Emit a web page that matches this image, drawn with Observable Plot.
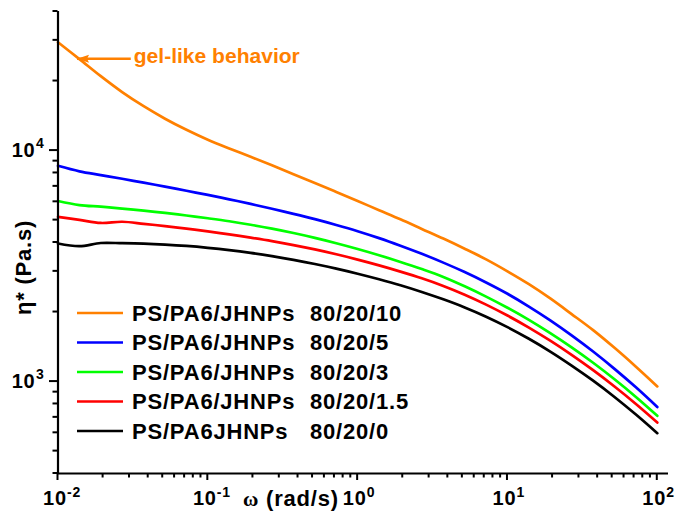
<!DOCTYPE html>
<html>
<head>
<meta charset="utf-8">
<script src="https://cdn.jsdelivr.net/npm/d3@7"></script>
<script src="https://cdn.jsdelivr.net/npm/@observablehq/plot@0.6"></script>
<style>
html,body{margin:0;padding:0;background:#fff;}
#chart{width:689px;height:511px;}
</style>
</head>
<body>
<div id="chart"></div>
<script>
// angular frequency (rad/s)
const omega = [0.01,0.0139,0.0193,0.0268,0.0373,0.0518,0.0720,0.1,0.139,0.193,0.268,0.373,0.518,0.720,1,1.39,1.93,2.68,3.73,5.18,7.20,10,13.9,19.3,26.8,37.3,51.8,72.0,100];
// complex viscosity (Pa.s) for each blend
const eta_80_20_10  = [29440,24890,20990,17910,15560,13740,12300,11140,10210,9400,8630,7890,7230,6620,6050,5520,5040,4580,4160,3760,3380,3000,2640,2290,1960,1670,1400,1160,953];
const eta_80_20_5   = [8590,8130,7834,7551,7261,6982,6699,6427,6152,5875,5598,5321,5047,4764,4477,4178,3873,3573,3273,2979,2685,2399,2113,1841,1585,1349,1135,944,776];
const eta_80_20_3   = [6050,5810,5715,5610,5495,5370,5236,5093,4943,4775,4592,4395,4188,3972,3750,3524,3296,3069,2838,2585,2333,2087,1849,1620,1406,1206,1023,858,711];
const eta_80_20_1_5 = [5160,5010,4860,4920,4820,4710,4592,4467,4335,4198,4055,3899,3733,3556,3373,3184,2992,2799,2594,2377,2154,1931,1713,1503,1305,1120,952,800,665];
const eta_80_20_0   = [3960,3855,3980,3972,3954,3917,3864,3793,3707,3606,3491,3365,3228,3083,2931,2773,2612,2443,2270,2094,1910,1721,1532,1349,1173,1009,858,720,598];

const seriesNames  = ["PS/PA6/JHNPs","PS/PA6/JHNPs","PS/PA6/JHNPs","PS/PA6/JHNPs","PS/PA6JHNPs"];
const seriesRatios = ["80/20/10","80/20/5","80/20/3","80/20/1.5","80/20/0"];
const seriesColors = ["#ff8000","#0000ff","#00ff00","#ff0000","#000000"];

const xMajorTicks = [0.01,0.1,1,10,100];
const xTickExponents = ["-2","-1","0","1","2"];
const yMajorTicks = [1000,10000];
const yTickExponents = ["3","4"];

const xAxisTitle = ["ω", " (rad/s)"];
const yAxisTitle = "η* (Pa.s)";

const gelLabel = "gel-like behavior";
const gelArrowOmega = [0.0306, 0.0134]; // tail, head
const gelArrowEta = 25000;

const seriesValues = [eta_80_20_10, eta_80_20_5, eta_80_20_3, eta_80_20_1_5, eta_80_20_0];
const rows = seriesValues.flatMap((vals, s) => vals.map((v, i) => ({omega: omega[i], eta: v, series: seriesRatios[s]})));

const xMinorTicks = [];
for (const d of [0.01, 0.1, 1, 10]) for (let m = 2; m <= 9; m++) xMinorTicks.push(+(d * m).toPrecision(3));
const yMinorTicks = [];
for (const d of [100, 1000, 10000]) for (let m = 2; m <= 9; m++) { const v = d * m; if (v >= 400 && v <= 40000) yMinorTicks.push(v); }

const W = 689, H = 511, ML = 57.5, MR = 21, MT = 11, MB = 38;
const FONT = "'Liberation Sans', Arial, Helvetica, sans-serif";
const arrowHead = { draw(ctx) { ctx.moveTo(0, 0); ctx.lineTo(12, -4); ctx.lineTo(10, 0); ctx.lineTo(12, 4); ctx.closePath(); } };

const chart = Plot.plot({
  width: W,
  height: H,
  marginLeft: ML,
  marginRight: MR,
  marginTop: MT,
  marginBottom: MB,
  style: {fontFamily: FONT, fontWeight: "bold", letterSpacing: "0.8px", background: "white", color: "black", overflow: "visible"},
  x: {type: "log", domain: [0.01, 118.8], axis: null},
  y: {type: "log", domain: [400, 40000], axis: null},
  color: {domain: seriesRatios, range: seriesColors},
  marks: [
    // tick labels: 10 with superscript exponent
    Plot.text(xMajorTicks, {x: d => d, frameAnchor: "bottom", text: () => "10", textAnchor: "middle", lineAnchor: "bottom", dx: -3, dy: 31, fontSize: 20, fontWeight: "bold", fill: "black"}),
    Plot.text(xMajorTicks, {x: d => d, frameAnchor: "bottom", text: (d, i) => xTickExponents[i], textAnchor: "start", lineAnchor: "bottom", dx: 9, dy: 23.7, fontSize: 14, fontWeight: "bold", fill: "black"}),
    Plot.text(yMajorTicks, {y: d => d, frameAnchor: "left", text: () => "10", textAnchor: "end", lineAnchor: "bottom", dx: -22.5, dy: 6.6, fontSize: 20, fontWeight: "bold", fill: "black"}),
    Plot.text(yMajorTicks, {y: d => d, frameAnchor: "left", text: (d, i) => yTickExponents[i], textAnchor: "start", lineAnchor: "bottom", dx: -22, dy: -2.4, fontSize: 14, fontWeight: "bold", fill: "black"}),
    // data
    Plot.line(rows, {x: "omega", y: "eta", z: "series", stroke: "series", strokeWidth: 2.7, strokeLinejoin: "round", curve: "catmull-rom"}),
    // annotation
    Plot.link([gelLabel], {x1: () => gelArrowOmega[0], x2: () => gelArrowOmega[1], y1: () => gelArrowEta, y2: () => gelArrowEta, stroke: "#ff8000", strokeWidth: 2.5}),
    Plot.dot([gelLabel], {x: () => gelArrowOmega[1], y: () => gelArrowEta, symbol: arrowHead, fill: "#ff8000", stroke: "none"}),
    Plot.text([gelLabel], {x: () => gelArrowOmega[0], y: () => gelArrowEta, text: d => d, textAnchor: "start", lineAnchor: "bottom", dx: 3, dy: 4.5, fontSize: 21, fontWeight: "bold", fill: "#ff8000"}),
    // axis lines
    Plot.ruleY([400], {stroke: "black", strokeWidth: 2.2}),
    Plot.ruleX([0.01], {stroke: "black", strokeWidth: 2.2})
  ]
});

const svg = d3.select(chart);
// narrow the annotation text like the reference
svg.selectAll("text").filter(function () { return this.textContent === gelLabel; })
  .attr("textLength", 166).attr("lengthAdjust", "spacingAndGlyphs").style("letter-spacing", "0px");

// outward ticks, positioned through the plot's own scales
const sx = chart.scale("x"), sy = chart.scale("y");
const bottom = H - MB;
const tg = svg.append("g").attr("stroke", "black").attr("stroke-width", 2).attr("fill", "none");
const addXTicks = (vals, len) => vals.forEach(v => {
  const px = sx.apply(v);
  tg.append("line").attr("x1", px).attr("x2", px).attr("y1", bottom).attr("y2", bottom + len);
});
const addYTicks = (vals, len) => vals.forEach(v => {
  const py = sy.apply(v);
  tg.append("line").attr("x1", ML - len).attr("x2", ML).attr("y1", py).attr("y2", py);
});
addXTicks(xMinorTicks, 4.5);
addXTicks(xMajorTicks, 7);
addYTicks(yMinorTicks, 5);
addYTicks(yMajorTicks, 8.5);

// legend inside the plot
const lg = svg.append("g").attr("font-size", 22).attr("font-weight", "bold").attr("fill", "black").attr("text-anchor", "start");
seriesRatios.forEach((r, i) => {
  const y = 313 + i * 29.5;
  lg.append("line").attr("x1", 77).attr("x2", 123).attr("y1", y).attr("y2", y)
    .attr("stroke", seriesColors[i]).attr("stroke-width", 2.7);
  lg.append("text").attr("x", 132).attr("y", y + 7.8).text(seriesNames[i]);
  lg.append("text").attr("x", 310).attr("y", y + 7.8).text(r);
});
// axis titles
const xt = svg.append("text").attr("x", 243).attr("y", 506).attr("text-anchor", "start").attr("font-size", 22).attr("font-weight", "bold").attr("fill", "black");
xt.append("tspan").attr("font-family", "'Liberation Serif', 'Times New Roman', serif").attr("font-size", 21).text(xAxisTitle[0]);
xt.append("tspan").text(xAxisTitle[1]);
svg.append("text").attr("transform", "translate(31,267.5) rotate(-90)").attr("text-anchor", "middle")
  .attr("font-size", 22).attr("font-weight", "bold").attr("fill", "black").text(yAxisTitle);

document.getElementById("chart").appendChild(chart);
</script>
</body>
</html>
